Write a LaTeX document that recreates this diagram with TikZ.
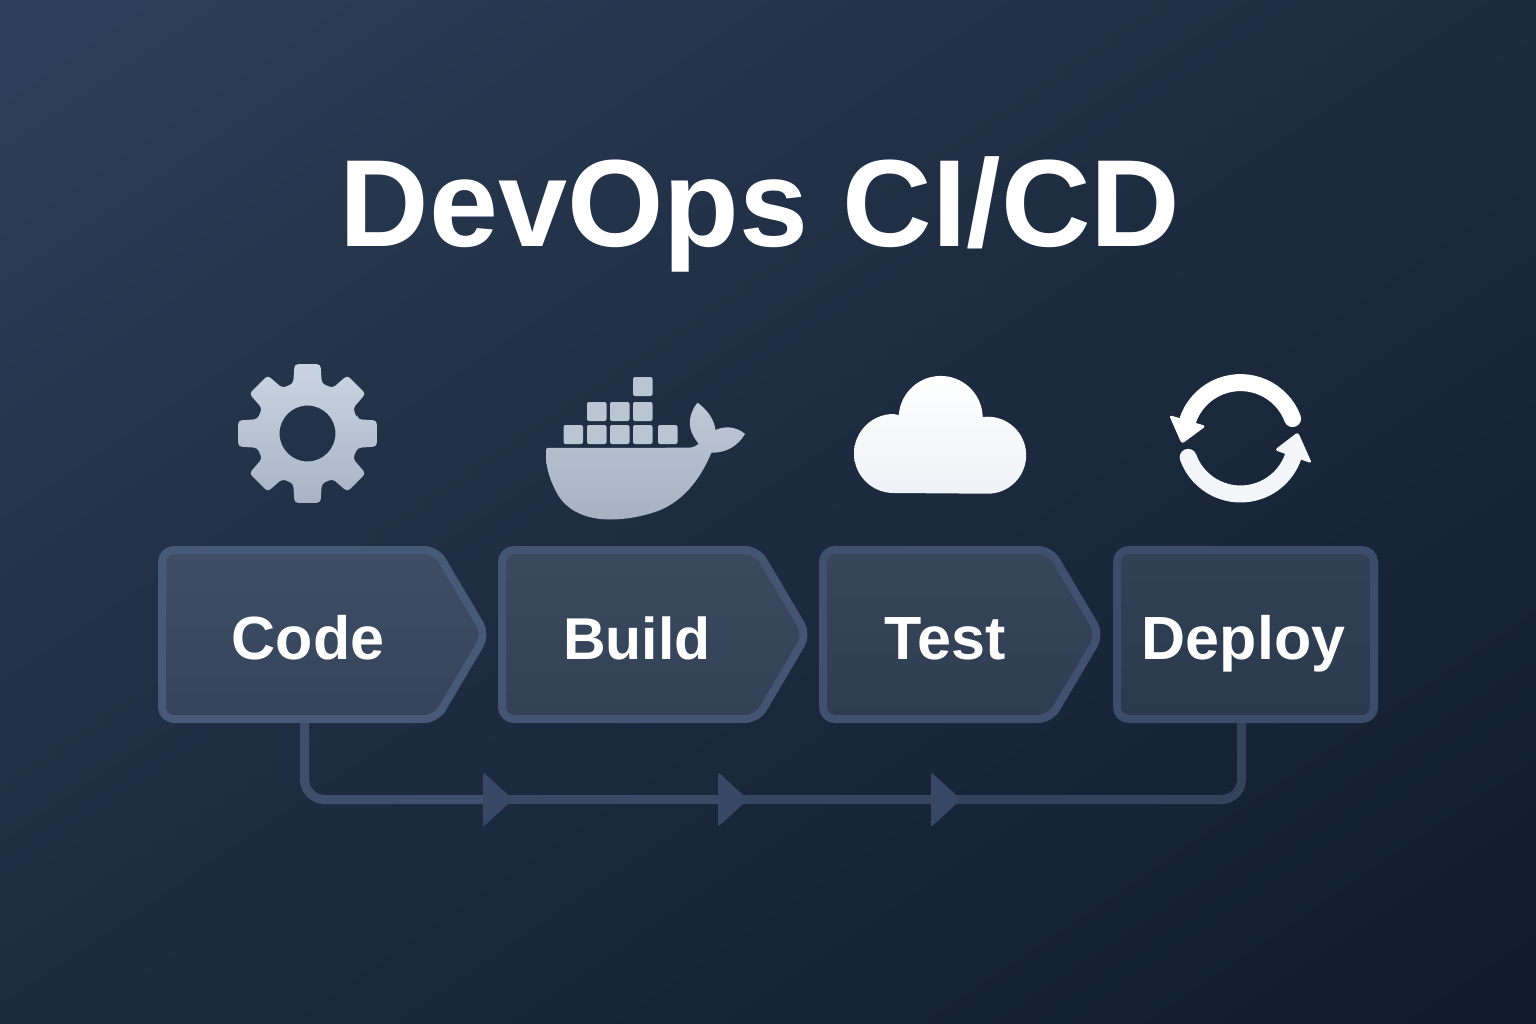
\documentclass[tikz,border=0pt]{standalone}
\usepackage{fontspec}
\usetikzlibrary{calc}
\setmainfont{Liberation Sans}
\definecolor{bg0}{HTML}{0F1A2A}
\definecolor{bg1}{HTML}{162335}
\definecolor{bg2}{HTML}{1D2B40}
\definecolor{bg3}{HTML}{26364D}
\definecolor{bg4}{HTML}{2E405C}
\pgfdeclareverticalshading{bgsh}{100bp}{color(0bp)=(bg0); color(15bp)=(bg0); color(30bp)=(bg1); color(50bp)=(bg2); color(70bp)=(bg3); color(85bp)=(bg4); color(100bp)=(bg4)}
\definecolor{cratecol}{HTML}{BAC5D3}
\definecolor{triCol}{HTML}{364865}
\definecolor{gearT}{RGB}{202,212,225}
\definecolor{gearB}{RGB}{168,180,197}
\definecolor{hullT}{RGB}{190,200,214}
\definecolor{hullB}{RGB}{166,177,194}
\definecolor{cloudB}{RGB}{238,241,246}
\definecolor{ringB}{RGB}{243,245,249}
\definecolor{busA}{RGB}{62,79,107}
\definecolor{busB}{RGB}{58,74,101}
\definecolor{busC}{RGB}{55,70,96}
\definecolor{busD}{RGB}{52,67,92}
\definecolor{edgeA}{RGB}{70,89,118}
\definecolor{edgeB}{RGB}{67,85,115}
\definecolor{edgeC}{RGB}{63,81,110}
\definecolor{edgeD}{RGB}{59,77,106}
\definecolor{fillAT}{RGB}{62,78,100}
\definecolor{fillAB}{RGB}{53,68,90}
\definecolor{fillBT}{RGB}{59,74,95}
\definecolor{fillBB}{RGB}{50,65,86}
\definecolor{fillCT}{RGB}{55,70,90}
\definecolor{fillCB}{RGB}{47,61,82}
\definecolor{fillDT}{RGB}{50,65,86}
\definecolor{fillDB}{RGB}{43,57,78}
\tikzset{
  stepbox/.style={line width=8pt,rounded corners=12pt,line join=round},
  lbl/.style={inner sep=0pt,anchor=base,text=white,font=\bfseries\fontsize{61}{66}\selectfont},
  bus/.style={line width=9pt,rounded corners=20pt},
  crate/.style={fill=cratecol,rounded corners=2pt},
  ring/.style={line width=17pt,line cap=round},
}
\begin{document}
\begin{tikzpicture}[x=1pt,y=1pt,yscale=-1]
\useasboundingbox (0,0) rectangle (1536,1024);
\shade[shading=bgsh,shading angle=34] (0,0) rectangle (1536,1024);

% title
\node[inner sep=0pt,anchor=base,text=white,font=\bfseries\fontsize{124}{130}\selectfont] (title) at (760,247) {DevOps CI/CD};

% gear
\shade[top color=gearT,bottom color=gearB,even odd rule,rounded corners=3.5pt]
  ($(307.5,433.5)+(-16:52)$)
  \foreach \a in {0,45,...,315} {
    -- ($(307.5,433.5)+(\a-16:52)$) -- ($(307.5,433.5)+(\a-10.6:70.5)$) -- ($(307.5,433.5)+(\a+10.6:70.5)$) -- ($(307.5,433.5)+(\a+16:52)$)
  } -- cycle
  (307.5,433.5) circle[radius=28];

% whale
\foreach \x/\y in {633/377,587/402,610/402,633/402,563.5/425,587/425,610/425,633/425,658/425}
  \fill[crate] (\x,\y) rectangle ++(19.5,19);
\shade[top color=hullT,bottom color=hullB]
  (547,448) -- (689,447.7) .. controls (693,447.5) and (696,446) .. (698.6,444)
  .. controls (693,436) and (689,430) .. (690,420)
  .. controls (691,412) and (694,407) .. (697.6,402.7)
  .. controls (706,409) and (714,418) .. (715.5,430)
  .. controls (724,426) and (736,426) .. (745,434)
  .. controls (738,446) and (726,453) .. (711.4,452.7)
  .. controls (700,480) and (682,503) .. (655,512)
  .. controls (640,517) and (625,519.5) .. (610,519.5)
  .. controls (585,519.5) and (567,510) .. (558,495)
  .. controls (550,481) and (546,468) .. (546,455)
  .. controls (546,450) and (546,448) .. (547,448) -- cycle;

% cloud
\shade[top color=white,bottom color=cloudB]
  (893.5,493) arc[start angle=90,end angle=270,radius=39.5]
  -- (898.8,415) arc[start angle=184,end angle=362,radius=42]
  -- (983,417) arc[start angle=263,end angle=450,radius=38.5]
  -- cycle;

% refresh
\draw[ring,white] (1240.5,438.3) ++(-20.7:55.7) arc[start angle=-20.7,end angle=-162,radius=55.7];
\fill[white,rounded corners=3pt,line join=round] (1169,415) -- (1181.7,444) -- (1206,426) -- cycle;
\draw[ring,ringB] (1240.5,438.3) ++(160:55.7) arc[start angle=160,end angle=19,radius=55.7];
\fill[ringB,rounded corners=3pt,line join=round] (1312,463.5) -- (1298,432) -- (1274.5,450) -- cycle;

% connector points
\coordinate (codeOut) at (304.5,719);
\coordinate (deployOut) at (1241.5,719);
\coordinate (busL) at (304.5,799.5);
\coordinate (busR) at (1241.5,799.5);
\coordinate (triA) at (483,799.5);
\coordinate (triB) at (718,799.5);
\coordinate (triC) at (931,799.5);

% connector, in four stretches that darken to the right
\draw[bus,busA] (codeOut) -- (busL) -- (triA);
\draw[bus,busB] (triA) -- (triB);
\draw[bus,busC] (triB) -- (triC);
\draw[bus,busD] (triC) -- (busR) -- (deployOut);
\foreach \t in {triA,triB,triC}
  \fill[triCol,rounded corners=1.5pt] (\t) ++(0,-27.5) -- ++(30,27.5) -- ++(-30,27.5) -- cycle;

% boxes
\path[stepbox,draw=edgeA,top color=fillAT,bottom color=fillAB]
  (162,550) -- (436,550) -- (486,634.5) -- (436,719) -- (162,719) -- cycle;
\path[stepbox,draw=edgeB,top color=fillBT,bottom color=fillBB]
  (502,550) -- (757,550) -- (807,634.5) -- (757,719) -- (502,719) -- cycle;
\path[stepbox,draw=edgeC,top color=fillCT,bottom color=fillCB]
  (823,550) -- (1050,550) -- (1100,634.5) -- (1050,719) -- (823,719) -- cycle;
\path[stepbox,draw=edgeD,top color=fillDT,bottom color=fillDB]
  (1117,550) -- (1374,550) -- (1374,719) -- (1117,719) -- cycle;

\node[lbl] (code) at (308,659) {Code};
\node[lbl,font=\bfseries\fontsize{59}{64}\selectfont] (build) at (637,659) {Build};
\node[lbl] (test) at (945,659) {Test};
\node[lbl] (deploy) at (1243.5,659) {Deploy};
\end{tikzpicture}
\end{document}
